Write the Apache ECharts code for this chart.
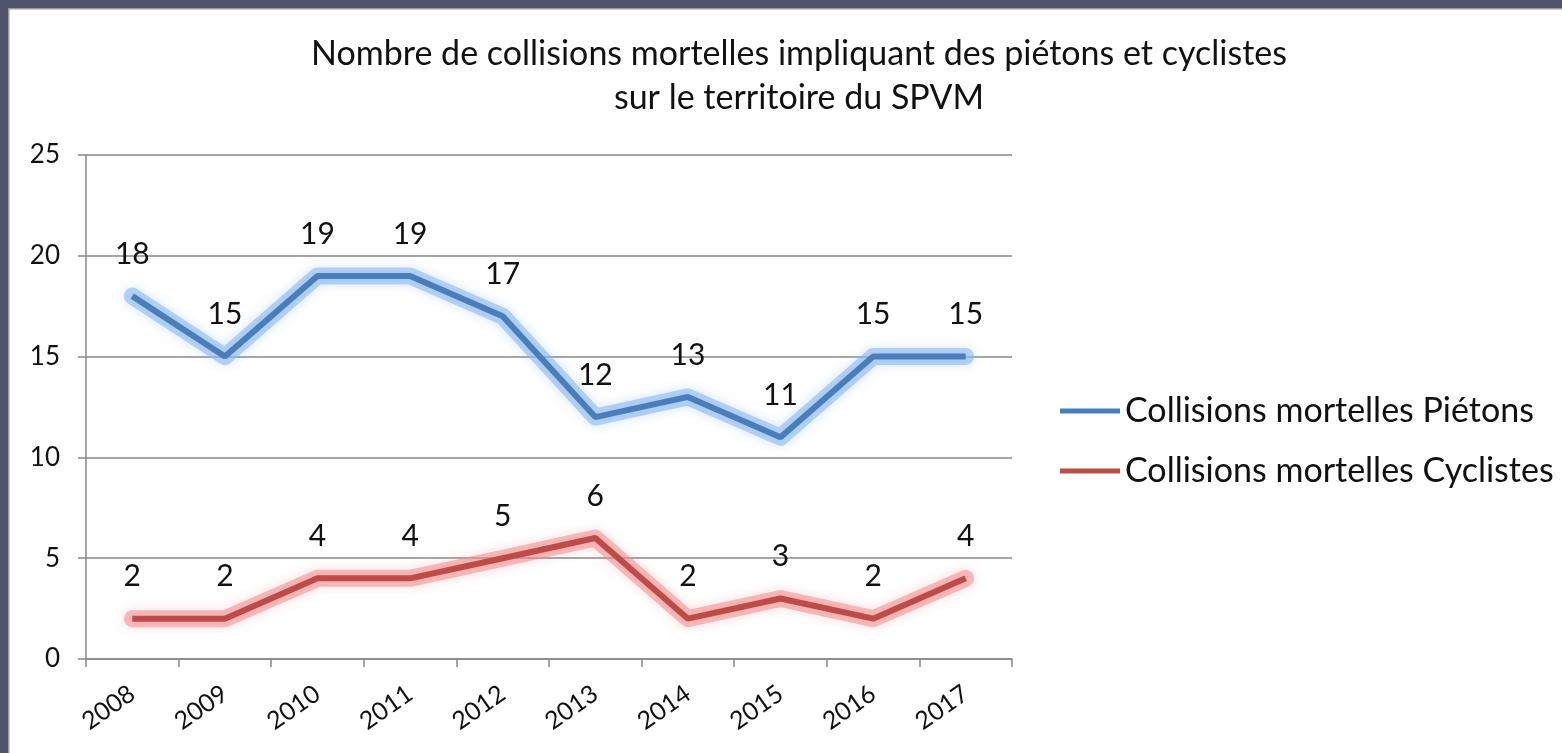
<!DOCTYPE html>
<html><head><meta charset="utf-8">
<script src="https://cdn.jsdelivr.net/npm/echarts@6/dist/echarts.min.js"></script>
<style>html,body{margin:0;padding:0;background:#fff}#c{width:1562px;height:753px}</style>
</head><body><div id="c"></div>
<script>
const years = ['2008','2009','2010','2011','2012','2013','2014','2015','2016','2017'];
const pietons = [18,15,19,19,17,12,13,11,15,15];
const cyclistes = [2,2,4,4,5,6,2,3,2,4];
const seriesNames = ['Collisions mortelles Piétons','Collisions mortelles Cyclistes'];
const titleLines = ['Nombre de collisions mortelles impliquant des piétons et cyclistes','sur le territoire du SPVM'];
const FONT = 'Lato';
const chart = echarts.init(document.getElementById('c'));
const lbl = {show:true, position:'top', distance:27, color:'#111', fontSize:30, fontFamily:FONT};
function glow(data, c){
  return {name:'_glow', type:'line', data:data, symbol:'none', silent:true, z:1,
    lineStyle:{width:17, color:c, shadowColor:c, shadowBlur:12, cap:'round', join:'round'},
    label:{show:false}, tooltip:{show:false}};
}
chart.setOption({
  animation:false,
  backgroundColor:'#fff',
  title:{text:titleLines.join('\n'), left:794, textAlign:'center', top:27,
    textStyle:{fontFamily:FONT, fontSize:34, fontWeight:'normal', color:'#111', lineHeight:44}},
  legend:{orient:'vertical', left:1055, top:389, itemWidth:60, itemHeight:5, itemGap:26, icon:'rect',
    textStyle:{fontFamily:FONT, fontSize:34, color:'#111', padding:[0,0,0,0]}, data:seriesNames},
  grid:{left:86, top:155, width:926, height:504},
  xAxis:{type:'category', data:years, boundaryGap:true,
    axisLine:{lineStyle:{color:'#888', width:1.5}},
    axisTick:{show:true, length:8, lineStyle:{color:'#888', width:1.5}},
    axisLabel:{rotate:35, fontFamily:FONT, fontSize:25, color:'#111', margin:32}},
  yAxis:{type:'value', min:0, max:25, interval:5,
    axisLine:{show:true, lineStyle:{color:'#888', width:1.5}},
    axisTick:{show:true, length:8, lineStyle:{color:'#888', width:1.5}},
    splitLine:{lineStyle:{color:'#888', width:1.5}},
    axisLabel:{fontFamily:FONT, fontSize:26, color:'#111', margin:26}},
  graphic:[
    {type:'rect', shape:{x:0,y:0,width:1562,height:8}, style:{fill:'#50536a'}, z:100},
    {type:'rect', shape:{x:0,y:0,width:8,height:753}, style:{fill:'#50536a'}, z:100},
    {type:'rect', shape:{x:8,y:8,width:1554,height:1.5}, style:{fill:'#9a9aa2'}, z:100},
    {type:'rect', shape:{x:8,y:8,width:1.5,height:745}, style:{fill:'#9a9aa2'}, z:100}
  ],
  series:[
    glow(pietons, 'rgba(140,185,240,0.6)'),
    glow(cyclistes, 'rgba(240,140,140,0.55)'),
    {name:seriesNames[0], type:'line', data:pietons, symbol:'circle', symbolSize:0, showSymbol:true, color:'#4a7ebb', z:3,
     lineStyle:{width:6, color:'#4a7ebb'},
     label:lbl},
    {name:seriesNames[1], type:'line', data:cyclistes, symbol:'circle', symbolSize:0, showSymbol:true, color:'#be4b48', z:3,
     lineStyle:{width:6, color:'#be4b48'},
     label:lbl}
  ]
});
</script></body></html>
